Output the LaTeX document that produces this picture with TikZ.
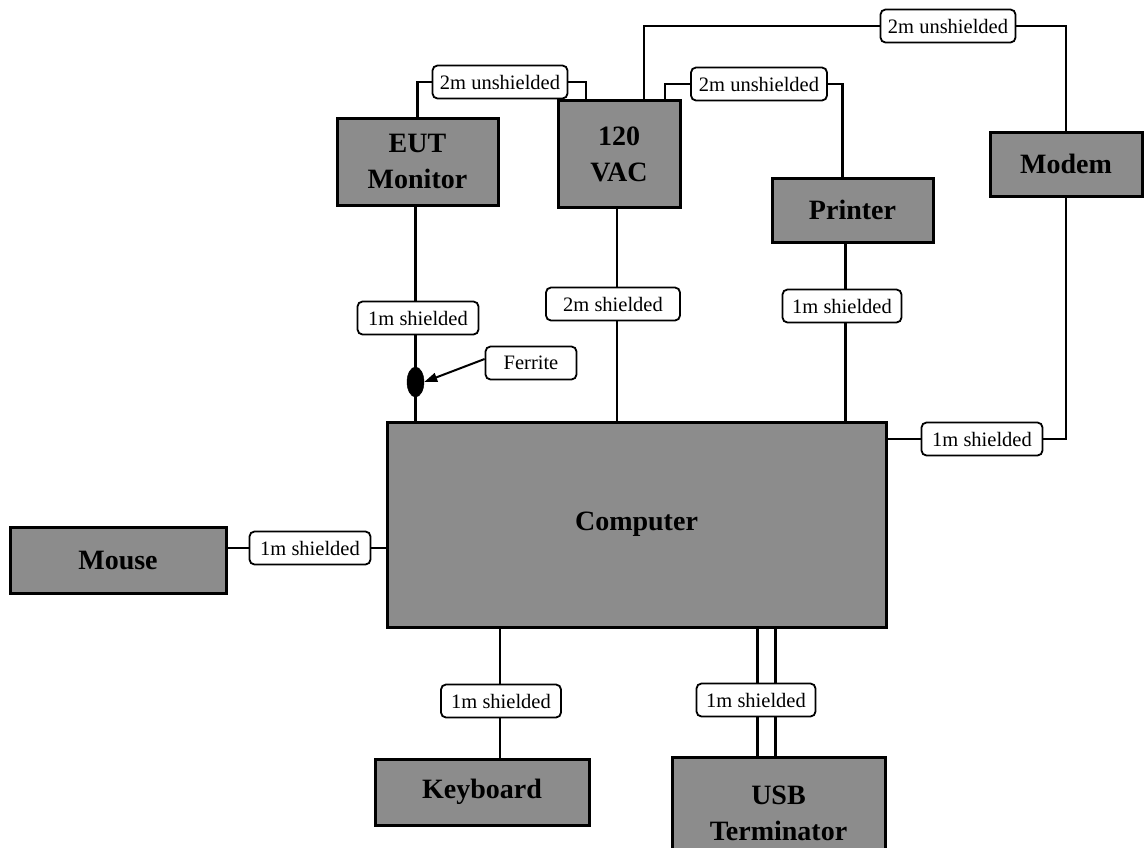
\documentclass[tikz,border=0pt]{standalone}
\usepackage{fontspec}
\setmainfont{Liberation Serif}
\usetikzlibrary{arrows.meta,shapes.geometric}
\pgfdeclarelayer{bg}
\pgfsetlayers{bg,main}
\begin{document}
\begin{tikzpicture}[x=1pt,y=-1pt,
  box/.style={draw=black, line width=3pt, fill=black!45, align=center, inner sep=0pt,
    font=\fontsize{28}{36}\selectfont\bfseries},
  lbl/.style={draw=black, line width=1.8pt, rounded corners=5pt, fill=white, inner sep=0pt,
    minimum height=33pt, font=\fontsize{20.5}{24}\selectfont},
  wire/.style={line width=2.5pt}]
\useasboundingbox (0,0) rectangle (1144,847);
\begin{scope}
\clip (0,0) rectangle (1144,847);
% boxes
\node[box, minimum width=161pt, minimum height=87pt] (eut) at (417.5,161.5) {EUT\\Monitor};
\node[box, minimum width=122pt, minimum height=107pt] (vac) at (619,154) {120\\VAC};
\node[box, minimum width=161pt, minimum height=64pt] (printer) at (852.5,210) {Printer};
\node[box, minimum width=152pt, minimum height=64pt] (modem) at (1066,164) {Modem};
\node[box, minimum width=499pt, minimum height=205pt] (comp) at (636.5,524.5) {Computer};
\node[box, minimum width=216pt, minimum height=66pt] (mouse) at (118,560) {Mouse};
\node[box, minimum width=214pt, minimum height=66pt] (kb) at (482,792) {Keyboard};
\node[box, minimum width=213pt, minimum height=113pt] (usb) at (778.5,813.5) {USB\\Terminator};
% labels
\node[lbl, minimum width=135pt] (l1) at (500,82) {2m unshielded};
\node[lbl, minimum width=136pt] (l2) at (759,84) {2m unshielded};
\node[lbl, minimum width=135pt] (l3) at (948,26) {2m unshielded};
\node[lbl, minimum width=121pt] (l4) at (418,318) {1m shielded};
\node[lbl, minimum width=134pt] (l5) at (613,304) {2m shielded};
\node[lbl, minimum width=119pt] (l6) at (842,306) {1m shielded};
\node[lbl, minimum width=121pt] (l7) at (982,439) {1m shielded};
\node[lbl, minimum width=121pt] (l8) at (310,548) {1m shielded};
\node[lbl, minimum width=120pt] (l9) at (501,701) {1m shielded};
\node[lbl, minimum width=119pt] (l10) at (756,700) {1m shielded};
\node[lbl, minimum width=91pt] (lf) at (531,363) {Ferrite};
% ferrite bead
\node[draw=black, fill=black, ellipse, minimum width=17pt, minimum height=30pt, inner sep=0pt] (fer) at (415.5,382) {};
\draw[line width=2pt, -{Triangle[length=13pt,width=9pt]}] ([yshift=4pt]lf.west) -- (fer.east);
% wires
\begin{pgfonlayer}{bg}
\draw[wire] (eut.north) |- (l1.west);
\draw[wire] (l1.east) -| ([xshift=-33pt]vac.north);
\draw[wire] ([xshift=46pt]vac.north) |- (l2.west);
\draw[wire] (l2.east) -| ([xshift=-10pt]printer.north);
\draw[wire] ([xshift=25pt]vac.north) |- (l3.west);
\draw[wire] (l3.east) -| (modem.north);
\draw[wire] ([xshift=-2pt]eut.south) -- ([xshift=-2pt]eut.south |- comp.north);
\draw[wire] ([xshift=-2pt]vac.south) -- ([xshift=-2pt]vac.south |- comp.north);
\draw[wire] ([xshift=-7pt]printer.south) -- ([xshift=-7pt]printer.south |- comp.north);
\draw[wire] (modem.south) |- (l7.east);
\draw[wire] (l7.west) -- (comp.east |- l7.west);
\draw[wire] (mouse.east |- l8.west) -- (comp.west |- l8.east);
\draw[wire] ([xshift=18pt]kb.north) -- ([xshift=18pt]kb.north |- comp.south);
\draw[wire] ([xshift=-21pt]usb.north) -- ([xshift=-21pt]usb.north |- comp.south);
\draw[wire] ([xshift=-3pt]usb.north) -- ([xshift=-3pt]usb.north |- comp.south);
\end{pgfonlayer}
\end{scope}
\end{tikzpicture}
\end{document}
